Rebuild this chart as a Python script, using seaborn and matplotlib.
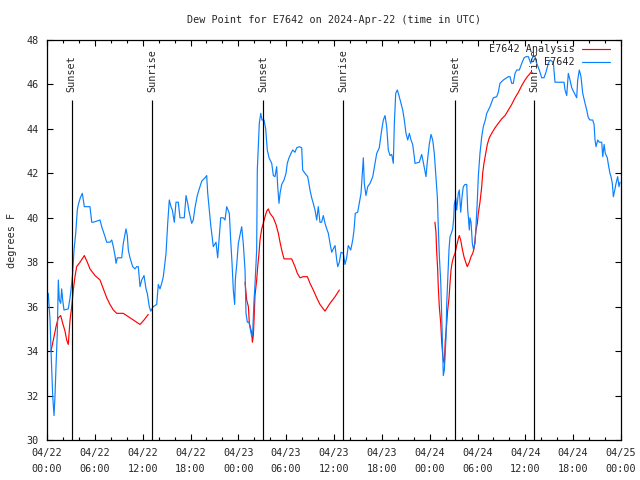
import matplotlib
matplotlib.use("Agg")
import matplotlib.pyplot as plt
import matplotlib.dates as mdates
from matplotlib.lines import Line2D
import numpy as np
import pandas as pd
import seaborn as sns

# hours since 2024-04-22 00:00 UTC
start = pd.Timestamp("2024-04-22 00:00")

obs_hours = [0.0, 0.16, 0.38, 0.5, 0.72, 0.88, 1.0, 1.13, 1.29, 1.42, 1.54, 1.72, 1.84, 1.97, 2.13,
             2.67, 2.89, 3.1, 3.22, 3.39, 3.6, 3.8, 3.93, 4.18, 4.43, 4.68, 5.39, 5.61, 5.81, 6.65,
             6.86, 7.28, 7.49, 7.9, 8.12, 8.32, 8.53, 8.66, 8.82, 9.37, 9.57, 9.91, 10.07, 10.2,
             10.41, 10.75, 11.04, 11.25, 11.45, 11.67, 11.88, 12.17, 12.42, 12.58, 12.83, 13.01,
             13.33, 13.76, 13.96, 14.17, 14.39, 14.59, 14.93, 15.14, 15.34, 15.55, 15.72, 15.97,
             16.18, 16.47, 16.68, 17.22, 17.44, 17.65, 17.81, 18.15, 18.35, 18.56, 18.85, 19.1,
             19.41, 19.82, 20.03, 20.16, 20.36, 20.53, 20.86, 21.2, 21.41, 21.58, 21.79, 22.12,
             22.33, 22.54, 22.87, 23.04, 23.21, 23.37, 23.54, 23.62, 23.8, 24.0, 24.42, 24.62,
             24.84, 24.96, 25.13, 25.34, 25.55, 25.68, 25.8, 25.97, 26.09, 26.3, 26.38, 26.63,
             26.81, 26.97, 27.22, 27.43, 27.63, 27.85, 28.19, 28.39, 28.6, 28.81, 28.94, 29.1,
             29.23, 29.44, 29.73, 29.98, 30.14, 30.36, 30.61, 30.82, 31.11, 31.32, 31.65, 31.95,
             32.07, 32.36, 32.7, 32.99, 33.2, 33.4, 33.62, 33.83, 34.03, 34.24, 34.45, 34.66,
             34.87, 35.09, 35.29, 35.5, 35.71, 35.91, 36.13, 36.34, 36.47, 36.67, 36.88, 37.17,
             37.38, 37.59, 37.79, 38.1, 38.35, 38.51, 38.67, 38.97, 39.17, 39.39, 39.6, 39.68,
             39.8, 40.01, 40.23, 40.52, 40.86, 41.14, 41.36, 41.68, 41.98, 42.19, 42.4, 42.61,
             42.81, 43.03, 43.24, 43.44, 43.57, 43.74, 43.94, 44.15, 44.37, 44.62, 44.82, 45.03,
             45.25, 45.45, 45.66, 45.87, 46.07, 46.16, 46.7, 47.0, 47.2, 47.54, 47.7, 47.95,
             48.17, 48.38, 48.58, 48.76, 48.96, 49.08, 49.21, 49.39, 49.51, 49.64, 49.71, 49.84,
             49.96, 50.05, 50.14, 50.3, 50.43, 50.55, 50.72, 50.89, 51.02, 51.09, 51.27, 51.39,
             51.59, 51.72, 51.89, 52.06, 52.22, 52.43, 52.65, 52.77, 52.85, 52.97, 53.06, 53.19,
             53.35, 53.48, 53.69, 53.81, 53.98, 54.1, 54.31, 54.53, 54.73, 54.98, 55.16, 55.36,
             55.57, 55.78, 55.98, 56.41, 56.61, 56.82, 57.24, 57.87, 58.08, 58.29, 58.49, 58.71,
             58.92, 59.25, 59.55, 59.84, 60.09, 60.38, 60.68, 60.93, 61.21, 61.43, 61.75, 62.05,
             62.34, 62.59, 62.88, 63.1, 63.51, 63.72, 64.56, 64.85, 64.98, 65.19, 65.39, 65.6,
             65.82, 66.02, 66.23, 66.44, 66.57, 66.77, 66.98, 67.2, 67.49, 67.7, 67.9, 68.11,
             68.45, 68.62, 68.74, 68.87, 69.08, 69.28, 69.58, 69.71, 69.88, 70.03, 70.28, 70.46,
             70.62, 70.75, 70.91, 71.04, 71.22, 71.38, 71.58, 71.75, 71.88]
obs_dewpt = [36.6, 36.6, 35.4, 34.05, 31.95, 31.1, 31.95, 33.3, 34.8, 37.2, 36.3, 36.15, 36.8, 36.3, 35.85,
             35.9, 36.4, 37.05, 37.5, 38.55, 39.3, 40.35, 40.6, 40.9, 41.1, 40.5, 40.5, 39.8, 39.8, 39.9,
             39.6, 39.15, 38.9, 38.9, 39.0, 38.7, 38.3, 37.95, 38.2, 38.2, 38.85, 39.5, 39.2, 38.55,
             38.2, 37.8, 37.7, 37.8, 37.8, 36.9, 37.2, 37.4, 36.8, 36.6, 36.0, 35.8,
             36.0, 36.1, 37.0, 36.8, 37.05, 37.35, 38.4, 39.75, 40.8, 40.5, 40.35, 39.8,
             40.7, 40.7, 40.0, 40.0, 41.0, 40.65, 40.3, 39.75, 39.9, 40.45, 41.0, 41.3,
             41.65, 41.8, 41.9, 41.1, 40.35, 39.7, 38.7, 38.9, 38.2, 39.0, 40.0, 40.0,
             39.9, 40.5, 40.2, 39.0, 37.95, 36.75, 36.1, 37.2, 37.9, 38.85, 39.6, 38.85,
             37.65, 35.7, 35.3, 35.3, 34.9, 34.65, 34.8, 36.3, 37.0, 38.55, 42.15, 44.25,
             44.7, 44.4, 44.4, 44.0, 43.05, 42.7, 42.45, 41.9, 41.85, 42.3, 41.4, 40.65,
             41.1, 41.5, 41.7, 42.0, 42.45, 42.7, 42.9, 43.05, 42.95, 43.15, 43.2, 43.15,
             42.15, 42.0, 41.85, 41.25, 40.9, 40.65, 40.35, 39.9, 40.5, 39.8, 39.8, 40.1,
             39.75, 39.5, 39.3, 38.85, 38.45, 38.6, 38.75, 38.1, 37.8, 38.0, 38.45, 38.4,
             37.9, 38.2, 38.75, 38.55, 39.0, 39.45, 40.2, 40.25, 40.65, 41.1, 42.3, 42.7,
             41.55, 41.0, 41.4, 41.55, 41.85, 42.45, 42.9, 43.15, 43.95, 44.4, 44.6, 44.1,
             43.05, 42.8, 42.85, 42.45, 44.25, 45.6, 45.75, 45.5, 45.2, 44.85, 44.4, 43.8,
             43.5, 43.8, 43.5, 43.3, 42.75, 42.45, 42.5, 42.85, 42.5, 41.85, 42.5, 43.3,
             43.75, 43.5, 42.9, 42.0, 40.95, 39.6, 38.3, 37.1, 35.6, 33.8, 32.9, 33.15,
             33.95, 34.6, 36.15, 37.55, 38.6, 39.15, 39.3, 39.5, 40.0, 40.6, 40.9, 40.35,
             41.1, 41.25, 40.25, 40.95, 41.4, 41.5, 41.5, 40.35, 40.05, 39.45, 40.0, 39.8,
             38.85, 38.6, 38.85, 39.6, 40.8, 41.85, 42.9, 43.65, 44.1, 44.4, 44.7, 44.85,
             45.0, 45.2, 45.4, 45.45, 45.65, 46.05, 46.2, 46.35, 46.35, 46.05, 46.05, 46.5,
             46.65, 46.65, 46.95, 47.2, 47.25, 47.25, 46.95, 47.25, 47.25, 46.95, 46.65, 46.3,
             46.3, 46.55, 46.95, 47.1, 47.0, 46.1, 46.1, 46.1, 45.75, 45.5, 46.5, 46.2,
             45.85, 45.7, 45.55, 45.4, 46.2, 46.65, 46.35, 45.6, 45.15, 44.85, 44.5, 44.4,
             44.4, 44.2, 43.5, 43.2, 43.5, 43.4, 43.4, 42.75, 43.3, 42.9, 42.7, 42.3,
             42.0, 41.85, 41.55, 40.95, 41.25, 41.55, 41.85, 41.4, 41.6]

# analysis series: three separate runs
ana1_hours = [0.5, 0.88, 1.13, 1.42, 1.72, 1.97, 2.26, 2.47, 2.67, 2.89, 3.1, 3.3, 3.51, 3.72,
              4.14, 4.68, 5.06, 5.39, 6.02, 6.65, 7.07, 7.49, 7.9, 8.32, 8.74, 9.57, 10.2, 11.04,
              11.67, 12.17, 12.7]
ana1_dewpt = [34.0, 34.65, 35.1, 35.5, 35.6, 35.25, 34.9, 34.5, 34.3, 35.4, 36.0, 36.75, 37.35, 37.8,
              38.0, 38.3, 38.0, 37.7, 37.4, 37.2, 36.8, 36.4, 36.1, 35.85, 35.7, 35.7, 35.55, 35.35,
              35.2, 35.4, 35.65]
ana2_hours = [24.84, 25.05, 25.26, 25.38, 25.55, 25.68, 25.76, 25.88, 25.97, 26.09, 26.3, 26.43,
              26.59, 26.72, 26.93, 27.13, 27.35, 27.56, 27.76, 27.97, 28.39, 28.72, 29.02, 29.23,
              29.44, 29.73, 30.69, 31.11, 31.4, 31.74, 32.16, 32.66, 32.99, 33.4, 33.83, 34.24,
              34.87, 35.5, 36.13, 36.67]
ana2_dewpt = [37.1, 36.3, 36.0, 35.25, 35.0, 34.8, 34.4, 34.7, 35.4, 36.5, 37.2, 37.8,
              38.4, 39.0, 39.5, 39.75, 40.05, 40.3, 40.4, 40.2, 40.0, 39.7, 39.3, 38.9,
              38.55, 38.15, 38.15, 37.8, 37.5, 37.3, 37.35, 37.35, 37.05, 36.75, 36.4, 36.1,
              35.8, 36.15, 36.45, 36.75]
ana3_hours = [48.66, 48.79, 48.87, 49.0, 49.08, 49.21, 49.39, 49.51, 49.64, 49.71, 49.84, 49.96,
              50.14, 50.26, 50.43, 50.55, 50.68, 50.8, 50.97, 51.18, 51.39, 51.59, 51.72, 51.89,
              52.09, 52.3, 52.52, 52.72, 52.97, 53.19, 53.4, 53.56, 53.69, 53.81, 53.98, 54.1,
              54.31, 54.53, 54.65, 54.81, 55.03, 55.23, 55.48, 55.78, 56.2, 56.61, 57.03, 57.45,
              57.87, 58.29, 58.71, 59.13, 59.55, 59.96, 60.25, 60.5, 60.71]
ana3_dewpt = [39.8, 39.35, 38.55, 37.7, 36.9, 36.0, 35.25, 34.4, 33.8, 33.6, 33.45, 34.5,
              35.25, 35.85, 36.4, 37.05, 37.65, 37.95, 38.2, 38.4, 38.75, 39.05, 39.2, 39.0,
              38.6, 38.25, 38.0, 37.8, 38.0, 38.25, 38.4, 38.6, 39.0, 39.45, 39.75, 40.2,
              40.7, 41.4, 42.0, 42.45, 42.9, 43.3, 43.6, 43.8, 44.05, 44.25, 44.45, 44.6,
              44.85, 45.1, 45.4, 45.65, 45.95, 46.2, 46.35, 46.45, 46.55]

sun_hours = [3.1, 13.2, 27.13, 37.17, 51.22, 61.13]
sun_labels = ["Sunset", "Sunrise", "Sunset", "Sunrise", "Sunset", "Sunrise"]

obs = pd.DataFrame({"time": start + pd.to_timedelta(obs_hours, unit="h"), "dewpt": obs_dewpt})
ana = pd.concat([
    pd.DataFrame({"hours": h, "dewpt": d, "run": i})
    for i, (h, d) in enumerate([(ana1_hours, ana1_dewpt), (ana2_hours, ana2_dewpt),
                                (ana3_hours, ana3_dewpt)])
], ignore_index=True)
ana["time"] = start + pd.to_timedelta(ana["hours"], unit="h")
sun_times = start + pd.to_timedelta(sun_hours, unit="h")

sns.set_style("ticks")
plt.rcParams["font.family"] = ["DejaVu Sans Mono"]
plt.rcParams["font.size"] = 7.3

fig = plt.figure(figsize=(6.4, 4.8), dpi=100)
ax = fig.add_axes([47 / 640, 40 / 480, 574 / 640, 400 / 480])

red = "#ff0000"
blue = "#0a80ff"
sns.lineplot(data=ana, x="time", y="dewpt", units="run", estimator=None, color=red,
             linewidth=0.85, ax=ax, legend=False)
sns.lineplot(data=obs, x="time", y="dewpt", color=blue, linewidth=0.85, ax=ax, legend=False)

for t, lab in zip(sun_times, sun_labels):
    ax.vlines(t, 30, 45.3, color="black", linewidth=0.85)
    ax.text(t, 45.65, lab, rotation=90, ha="center", va="bottom", fontsize=7.3)

ax.set_xlim(start, start + pd.Timedelta(hours=72))
ax.set_ylim(30, 48)
ax.set_yticks(np.arange(30, 49, 2))
ax.xaxis.set_major_locator(mdates.HourLocator(byhour=[0, 6, 12, 18]))
ax.xaxis.set_minor_locator(mdates.HourLocator(byhour=range(0, 24, 2)))
ax.xaxis.set_major_formatter(mdates.DateFormatter("%m/%d\n%H:%M"))
ax.tick_params(which="both", direction="in", top=True, right=True, labelsize=7.3, color="black")
ax.tick_params(which="major", length=4.5, width=0.8, pad=6)
ax.tick_params(which="minor", length=2.5, width=0.8)
for lab in ax.get_xticklabels():
    lab.set_linespacing(1.75)
for s in ax.spines.values():
    s.set_color("black")
    s.set_linewidth(0.9)

ax.set_xlabel("")
ax.set_ylabel("degrees F", fontsize=7.3, labelpad=7)
ax.set_title("Dew Point for E7642 on 2024-Apr-22 (time in UTC)", fontsize=7.3, pad=12)

handles = [Line2D([], [], color=red, lw=0.85), Line2D([], [], color=blue, lw=0.85)]
ax.legend(handles, ["E7642 Analysis", "E7642"], loc="upper right", frameon=False,
          markerfirst=False, handlelength=2.8, handletextpad=0.7, fontsize=7.3,
          borderaxespad=0.0, labelspacing=0.3, bbox_to_anchor=(0.988, 1.0))

fig.savefig("out.png", dpi=100)
